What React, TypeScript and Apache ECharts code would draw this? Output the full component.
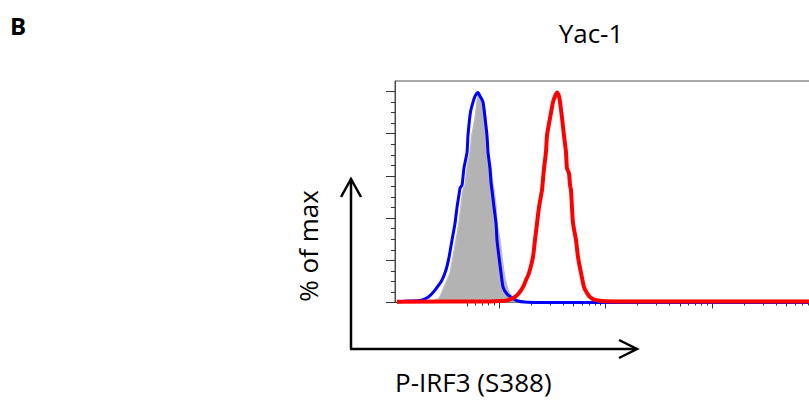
import React, { useEffect, useRef } from "react";
import * as echarts from "echarts";

// x values are log10 of fluorescence intensity; y values are % of max
const grayX = [1.35, 1.427, 1.446, 1.493, 1.54, 1.568, 1.624, 1.662, 1.681, 1.7, 1.728, 1.746, 1.775, 1.793, 1.812, 1.822, 1.85, 1.878, 1.887, 1.897, 1.925, 1.944, 1.953, 1.972, 1.981, 2.009, 2.028, 2.047, 2.085, 2.122, 2.16, 2.197];
const grayY = [0, 1.7, 2.7, 8.3, 14, 21.5, 37.6, 53.3, 55.6, 63.7, 71.3, 79.3, 87.4, 95, 99.5, 98, 95, 87.4, 79.3, 71.3, 63.7, 55.6, 53.3, 45.2, 37.6, 29.6, 21.5, 14, 5.9, 2.6, 0.7, 0];

const blueX = [1.042, 1.146, 1.258, 1.305, 1.352, 1.399, 1.465, 1.502, 1.531, 1.559, 1.587, 1.606, 1.624, 1.634, 1.653, 1.671, 1.7, 1.709, 1.732, 1.756, 1.775, 1.803, 1.822, 1.85, 1.869, 1.887, 1.897, 1.915, 1.925, 1.934, 1.953, 1.972, 1.981, 2.0, 2.019, 2.038, 2.075, 2.122, 2.169, 2.244, 2.385, 5.0];
const blueY = [0.2, 0.7, 0.9, 1.7, 3.3, 5.9, 10.7, 15.4, 21.5, 29.6, 37.6, 45.2, 50.9, 54.2, 55.6, 63.7, 71.3, 79.3, 90.2, 95, 97.8, 99.5, 97.8, 95, 87.4, 79.3, 71.3, 63.7, 57, 53.3, 45.2, 37.6, 29.6, 21.5, 14, 7.3, 4, 2.1, 0.85, 0.2, 0, 0];

const redX = [1.042, 1.915, 2.009, 2.075, 2.15, 2.188, 2.225, 2.254, 2.282, 2.319, 2.338, 2.357, 2.376, 2.404, 2.408, 2.423, 2.441, 2.451, 2.479, 2.507, 2.526, 2.545, 2.563, 2.573, 2.592, 2.61, 2.629, 2.638, 2.657, 2.667, 2.676, 2.685, 2.695, 2.723, 2.742, 2.77, 2.798, 2.826, 2.854, 2.901, 2.967, 3.136, 5.0];
const redY = [0.4, 0.5, 0.7, 1.0, 2.6, 4.5, 7.3, 10.7, 14, 21.5, 29.6, 37.6, 45.2, 53.3, 55.6, 63.7, 71.3, 79.3, 87.4, 95, 97.8, 99.5, 97.8, 95, 87.4, 79.3, 71.3, 63.7, 61.3, 55.6, 53.3, 45.2, 37.6, 29.6, 21.5, 14, 7.3, 4.5, 2.6, 1.2, 0.7, 0.5, 0.5];

// tick positions (intensity values)
const xMajorTicks = [100, 1000, 10000, 100000];
const xMidTicks = [50, 500, 5000, 50000];
const xMinorTicks = [60, 70, 80, 90, 200, 300, 400, 600, 700, 800, 900, 2000, 3000, 4000, 6000, 7000, 8000, 9000, 20000, 30000, 40000, 60000, 70000, 80000, 90000];
const yMajorTicks = [0, 20, 40, 60, 80, 100];
const yMinorTicks = [5, 10, 15, 25, 30, 35, 45, 50, 55, 65, 70, 75, 85, 90, 95];

const panelLabel = "B";
const title = "Yac-1";
const yName = "% of max";
const xName = "P-IRF3 (S388)";

const X_MIN = 1.0235;
const X_MAX = 5.0;
const Y_MAX = 105;

const pairs = (xs: number[], ys: number[]) => xs.map((x, i) => [x, ys[i]]);
const lg = (v: number[]) => v.map((t) => Math.log10(t));

export default function App() {
  const ref = useRef<HTMLDivElement>(null);
  useEffect(() => {
    if (!ref.current) return;
    const chart = echarts.init(ref.current, undefined, { renderer: "svg" });
    // chart canvas is 830 wide inside an 809-wide clipping frame
    const gridBox = { left: 395, top: 81, right: 11.5, bottom: 97.5 };
    const font = "'Open Sans', sans-serif";
    const xAx = (gi: number, ticks: number[], len: number, line: boolean) => ({
      type: "value",
      gridIndex: gi,
      min: X_MIN,
      max: X_MAX,
      position: "bottom",
      axisLine: { show: line, lineStyle: { color: "#444", width: 1 } },
      axisTick: { show: true, customValues: ticks, length: len, lineStyle: { color: "#333", width: 1 } },
      axisLabel: { show: false },
      splitLine: { show: false },
    });
    const yAx = (gi: number, ticks: number[], len: number, line: boolean) => ({
      type: "value",
      gridIndex: gi,
      min: 0,
      max: Y_MAX,
      interval: 5,
      position: "left",
      axisLine: { show: line, lineStyle: { color: "#444", width: 1 } },
      axisTick: { show: true, customValues: ticks, length: len, lineStyle: { color: "#333", width: 1 } },
      axisLabel: { show: false },
      splitLine: { show: false },
    });
    chart.setOption({
      animation: false,
      grid: [
        { ...gridBox, show: true, borderColor: "#555", borderWidth: 1, backgroundColor: "transparent" },
        { ...gridBox },
        { ...gridBox },
      ],
      xAxis: [
        xAx(0, lg(xMajorTicks), 6, true),
        xAx(1, lg(xMidTicks), 4, false),
        xAx(2, lg(xMinorTicks), 3, false),
      ],
      yAxis: [
        yAx(0, yMajorTicks, 9, true),
        yAx(1, yMinorTicks, 4, false),
        yAx(2, [], 0, false),
      ],
      series: [
        {
          type: "line",
          xAxisIndex: 0,
          yAxisIndex: 0,
          data: pairs(grayX, grayY),
          symbol: "none",
          smooth: 0.2,
          lineStyle: { color: "#bdbdbd", width: 1.5 },
          areaStyle: { color: "#b3b3b3", opacity: 1 },
          z: 1,
        },
        {
          type: "line",
          xAxisIndex: 0,
          yAxisIndex: 0,
          data: pairs(blueX, blueY),
          symbol: "none",
          smooth: 0.2,
          lineStyle: { color: "#0000ff", width: 3 },
          z: 2,
        },
        {
          type: "line",
          xAxisIndex: 0,
          yAxisIndex: 0,
          data: pairs(redX, redY),
          symbol: "none",
          smooth: 0.2,
          lineStyle: { color: "#ff0000", width: 4 },
          z: 3,
        },
      ],
      graphic: [
        { type: "text", x: 10, y: 25, style: { text: panelLabel, font: `bold 24px ${font}`, fill: "#000", textVerticalAlign: "middle" } },
        { type: "text", x: 591, y: 33, style: { text: title, font: `26px ${font}`, fill: "#000", textAlign: "center", textVerticalAlign: "middle" } },
        { type: "text", x: 308, y: 246, rotation: Math.PI / 2, style: { text: yName, font: `26px ${font}`, fill: "#000", textAlign: "center", textVerticalAlign: "middle" } },
        { type: "text", x: 395, y: 382, style: { text: xName, font: `26px ${font}`, fill: "#000", textAlign: "left", textVerticalAlign: "middle" } },
        { type: "line", shape: { x1: 351, y1: 349, x2: 351, y2: 179 }, style: { stroke: "#000", lineWidth: 2.5 } },
        { type: "polyline", shape: { points: [[341, 197], [351, 179], [361, 197]] }, style: { stroke: "#000", lineWidth: 2.5, fill: null } },
        { type: "line", shape: { x1: 350, y1: 349, x2: 636, y2: 349 }, style: { stroke: "#000", lineWidth: 2.5 } },
        { type: "polyline", shape: { points: [[619, 340], [637, 349], [619, 358]] }, style: { stroke: "#000", lineWidth: 2.5, fill: null } },
      ],
    });
    return () => chart.dispose();
  }, []);
  return (
    <div style={{ position: "absolute", left: 0, top: 0, width: 809, height: 400, overflow: "hidden" }}>
      <div ref={ref} style={{ width: 830, height: 400 }} />
    </div>
  );
}
